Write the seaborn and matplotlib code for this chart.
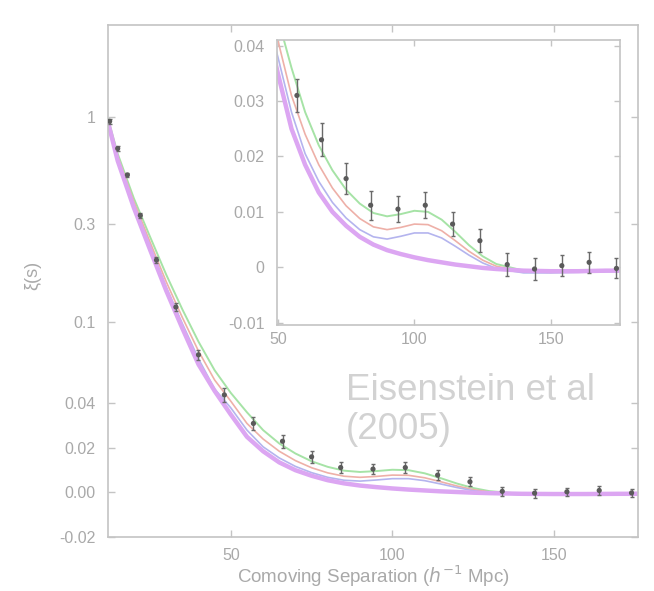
import numpy as np
import pandas as pd
import matplotlib
matplotlib.use("Agg")
import matplotlib.pyplot as plt
import seaborn as sns

# ---------------- data ----------------
# measured correlation function (SDSS LRG)
s_data = [12.5, 15, 18, 22, 27, 33, 40, 48, 57, 66, 75, 84, 94, 104, 114, 124, 134, 144, 154, 164, 174]
xi_data = [0.95, 0.70, 0.52, 0.33, 0.20, 0.118, 0.069, 0.044, 0.031, 0.023, 0.016, 0.0112,
           0.0105, 0.0112, 0.0078, 0.0048, 0.0005, -0.0003, 0.0003, 0.0009, -0.0002]
xi_err = [0.03, 0.02, 0.012, 0.008, 0.006, 0.005, 0.004, 0.0035, 0.003, 0.003, 0.0028, 0.0026,
          0.0024, 0.0023, 0.0022, 0.0021, 0.002, 0.002, 0.0019, 0.0019, 0.0018]

# model curves
s_model = [12, 15, 20, 25, 30, 35, 40, 45, 50, 55, 60, 65, 70, 75, 80, 85, 90, 95, 100,
           105, 110, 115, 120, 125, 130, 140, 150, 160, 170, 180]
xi_green = [0.98, 0.66, 0.40, 0.26, 0.17, 0.115, 0.080, 0.058, 0.045, 0.036, 0.028, 0.022,
            0.0175, 0.0140, 0.0115, 0.0098, 0.0092, 0.0096, 0.0102, 0.0100, 0.0086, 0.0064,
            0.0040, 0.0020, 0.0006, -0.0006, -0.0008, -0.0007, -0.0006, -0.0005]
xi_red = [0.96, 0.64, 0.385, 0.245, 0.157, 0.105, 0.072, 0.052, 0.041, 0.031, 0.024, 0.0185,
          0.0143, 0.0111, 0.0088, 0.0073, 0.0068, 0.0072, 0.0078, 0.0077, 0.0066, 0.0048,
          0.0029, 0.0013, 0.0002, -0.0008, -0.0009, -0.0008, -0.0007, -0.0006]
xi_blue = [0.95, 0.62, 0.37, 0.235, 0.148, 0.098, 0.066, 0.047, 0.038, 0.028, 0.0205, 0.0155,
           0.0117, 0.0089, 0.0068, 0.0055, 0.0051, 0.0056, 0.0062, 0.0062, 0.0053, 0.0038,
           0.0022, 0.0008, -0.0002, -0.0010, -0.0010, -0.0009, -0.0008, -0.0007]
xi_magenta = [0.94, 0.61, 0.36, 0.225, 0.142, 0.093, 0.062, 0.046, 0.035, 0.025, 0.0185, 0.0135,
              0.0100, 0.0075, 0.0055, 0.0041, 0.0031, 0.0024, 0.0018, 0.0013, 0.0009, 0.0005,
              0.0002, -0.0001, -0.0003, -0.0006, -0.0007, -0.0007, -0.0006, -0.0006]

main_yticks = [1, 0.3, 0.1, 0.04, 0.02, 0.0, -0.02]
main_yticklabels = ["1", "0.3", "0.1", "0.04", "0.02", "0.00", "-0.02"]
inset_yticks = [0.04, 0.03, 0.02, 0.01, 0.0, -0.01]
inset_yticklabels = ["0.04", "0.03", "0.02", "0.01", "0", "-0.01"]
xticks = [50, 100, 150]
xticklabels = ["50", "100", "150"]

# ---------------- long-format table ----------------
model_names = ["green", "red", "blue", "magenta"]
model_vals = [xi_green, xi_red, xi_blue, xi_magenta]
models = pd.DataFrame({
    "s": np.tile(s_model, len(model_names)),
    "xi": np.concatenate(model_vals),
    "model": np.repeat(model_names, len(s_model)),
})
data = pd.DataFrame({"s": s_data, "xi": xi_data, "err": xi_err})

palette = {"green": "#a6e3a6", "red": "#eeb0a8", "blue": "#b4b4ee", "magenta": "#dca6f2"}
widths = {"green": 1.4, "red": 1.2, "blue": 1.2, "magenta": 3.2}

# mixed log / linear vertical scale (log above 0.04, linear below, smooth join)
A = 0.04
LN10 = np.log(10.0)


def fwd(y):
    y = np.asarray(y, dtype=float)
    with np.errstate(divide="ignore", invalid="ignore"):
        lg = np.log10(np.maximum(y, 1e-12) / A)
    return np.where(y >= A, lg, (y - A) / (A * LN10))


def inv(u):
    u = np.asarray(u, dtype=float)
    with np.errstate(over="ignore"):
        return np.where(u >= 0, A * np.power(10.0, u), A + u * A * LN10)


# ---------------- figure ----------------
sns.set_theme(style="ticks")
plt.rcParams["font.family"] = ["Liberation Sans", "DejaVu Sans"]
spine_col = "#c4c4c4"
label_col = "#a9a9a9"
plt.rcParams.update({
    "xtick.direction": "in", "ytick.direction": "in",
    "xtick.color": spine_col, "ytick.color": spine_col,
    "xtick.labelcolor": label_col, "ytick.labelcolor": label_col,
    "axes.edgecolor": spine_col, "axes.linewidth": 1.2,
})

W, H = 654, 591
fig = plt.figure(figsize=(W / 100, H / 100), dpi=100)
ax = fig.add_axes([108 / W, 1 - 537 / H, 530 / W, 512 / H])
ins = fig.add_axes([277 / W, 1 - 325 / H, 343 / W, 285 / H])


def draw(axis):
    for name in model_names:
        sns.lineplot(data=models[models.model == name], x="s", y="xi", color=palette[name],
                     lw=widths[name], estimator=None, sort=True, ax=axis, legend=False)
    axis.errorbar(data["s"], data["xi"], yerr=data["err"], fmt="none",
                  ecolor="#6a6a6a", elinewidth=1.0, capsize=1.5, zorder=4)
    sns.scatterplot(data=data, x="s", y="xi", color="#5a5a5a", s=14, edgecolor="none",
                    ax=axis, zorder=5, legend=False)


draw(ax)
ax.set_yscale("function", functions=(fwd, inv))
ax.set_xlim(12, 176)
ax.set_ylim(-0.02, 2.8)
ax.set_yticks(main_yticks)
ax.set_yticklabels(main_yticklabels)
ax.set_xticks(xticks)
ax.set_xticklabels(xticklabels)
ax.tick_params(labelsize=11.5, top=True, right=True, length=5, width=1.0)
ax.tick_params(axis="y", pad=9)
ax.tick_params(axis="x", pad=8)
ax.set_xlabel("Comoving Separation ($h^{-1}$ Mpc)", fontsize=13.5, color=label_col, va="center")
ax.xaxis.set_label_coords(0.5, (537 - 576) / 512)
ax.set_ylabel("ξ(s)", fontsize=13, color=label_col, va="center")
ax.yaxis.set_label_coords((33 - 108) / 530, 0.51)

draw(ins)
ins.set_xlim(49.7, 175.3)
ins.set_ylim(-0.0104, 0.041)
ins.set_yticks(inset_yticks)
ins.set_yticklabels(inset_yticklabels)
ins.set_xticks(xticks)
ins.set_xticklabels(xticklabels)
ins.tick_params(labelsize=11.5, top=True, right=True, length=4, width=1.0)
ins.tick_params(axis="y", pad=9)
ins.tick_params(axis="x", pad=5)
ins.set_xlabel("")
ins.set_ylabel("")

fig.text(346 / W, 1 - 373 / H, "Eisenstein et al\n(2005)", fontsize=26.5, color="#d2d2d2",
         ha="left", va="top", linespacing=1.15, family=["Liberation Sans", "DejaVu Sans"])

fig.savefig("out.png", dpi=100)
